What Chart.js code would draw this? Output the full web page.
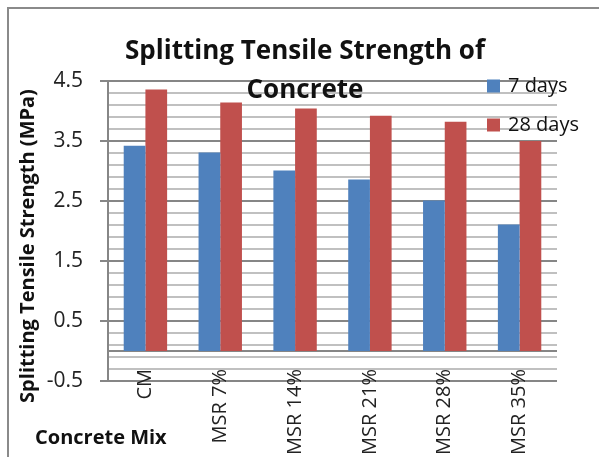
<!DOCTYPE html>
<html>
<head>
<meta charset="utf-8">
<script src="https://cdn.jsdelivr.net/npm/chart.js@4"></script>
<style>
  html, body { margin: 0; padding: 0; background: #fff; overflow: hidden; }
  #wrap { position: relative; width: 599px; height: 457px; }
</style>
</head>
<body>
<div id="wrap"><canvas id="tensileChart"></canvas></div>
<script>
// Splitting tensile strength
const mixes = ['CM', 'MSR 7%', 'MSR 14%', 'MSR 21%', 'MSR 28%', 'MSR 35%'];
const days7 = [3.42, 3.31, 3.01, 2.86, 2.51, 2.11];
const days28 = [4.36, 4.14, 4.04, 3.92, 3.82, 3.50];
const yTickLabels = ['-0.5', '0.5', '1.5', '2.5', '3.5', '4.5'];

const chartTitle = ['Splitting Tensile Strength of', 'Concrete'];
const yTitle = 'Splitting Tensile Strength (MPa)';
const xTitle = 'Concrete Mix';

const FONT = '"Open Sans", "Liberation Sans", sans-serif';
const MAJOR = '#868686';
const MINOR = '#c0c0c0';

function isMajor(v) {
    return yTickLabels.includes(v.toFixed(1));
}

// frame, zero line, titles and legend drawn on top of the chart
const decorPlugin = {
    id: 'decor',
    beforeDatasetsDraw(chart) {
        const { ctx, chartArea } = chart;
        const y0 = chart.scales.y.getPixelForValue(0);
        ctx.save();
        ctx.strokeStyle = MAJOR;
        ctx.lineWidth = 2;
        ctx.beginPath();
        ctx.moveTo(chartArea.left, y0);
        ctx.lineTo(chartArea.right, y0);
        ctx.stroke();
        ctx.restore();
    },
    afterDraw(chart) {
        const { ctx } = chart;
        ctx.save();

        // outer frame
        ctx.strokeStyle = '#8a8a8a';
        ctx.lineWidth = 2;
        ctx.strokeRect(8, 8, 800, 800);

        ctx.fillStyle = '#111';
        ctx.textAlign = 'center';
        ctx.textBaseline = 'alphabetic';
        ctx.font = 'bold 26px ' + FONT;
        ctx.fillText(chartTitle[0], 305, 59);
        ctx.fillText(chartTitle[1], 305, 98);

        // y axis title
        ctx.save();
        ctx.translate(28, 246);
        ctx.rotate(-Math.PI / 2);
        ctx.font = 'bold 20px ' + FONT;
        ctx.textBaseline = 'middle';
        ctx.fillText(yTitle, 0, 0);
        ctx.restore();

        // x axis title
        ctx.font = 'bold 20px ' + FONT;
        ctx.textAlign = 'left';
        ctx.textBaseline = 'middle';
        ctx.fillText(xTitle, 35, 438);

        // legend
        ctx.font = '20px ' + FONT;
        const legendY = [86, 125];
        chart.data.datasets.forEach((ds, i) => {
            ctx.fillStyle = ds.backgroundColor;
            ctx.fillRect(487, legendY[i] - 6.5, 13, 13);
            ctx.fillStyle = '#111';
            ctx.fillText(ds.label, 508, legendY[i]);
        });

        ctx.restore();
    }
};

new Chart(document.getElementById('tensileChart'), {
    type: 'bar',
    data: {
        labels: mixes,
        datasets: [
            { label: '7 days', data: days7, backgroundColor: '#4F81BD' },
            { label: '28 days', data: days28, backgroundColor: '#C0504D' }
        ]
    },
    options: {
        responsive: true,
        maintainAspectRatio: false,
        animation: false,
        layout: { padding: { top: 81, right: 42, bottom: 0, left: 0 } },
        datasets: {
            bar: { categoryPercentage: 0.58, barPercentage: 1.0, borderWidth: 0 }
        },
        plugins: {
            legend: { display: false },
            title: { display: false },
            tooltip: { enabled: false }
        },
        scales: {
            x: {
                grid: { display: false, drawTicks: false },
                border: { display: false },
                ticks: {
                    font: { family: FONT, size: 20 },
                    color: '#222',
                    minRotation: 90,
                    maxRotation: 90,
                    mirror: true,
                    padding: 12,
                    labelOffset: 24,
                    autoSkip: false
                },
                afterFit: (scale) => { scale.height = 76; }
            },
            y: {
                min: -0.5,
                max: 4.5,
                ticks: {
                    stepSize: 0.2,
                    autoSkip: false,
                    padding: 17,
                    font: { family: FONT, size: 21 },
                    color: '#222',
                    callback: (v) => isMajor(v) ? v.toFixed(1) : ''
                },
                grid: {
                    color: (c) => isMajor(c.tick.value) ? MAJOR : MINOR,
                    tickColor: (c) => isMajor(c.tick.value) ? MAJOR : 'rgba(0,0,0,0)',
                    lineWidth: 2,
                    tickLength: 8
                },
                border: { display: true, color: MAJOR, width: 2 },
                afterFit: (scale) => { scale.width = 108; }
            }
        }
    },
    plugins: [decorPlugin]
});
</script>
</body>
</html>
